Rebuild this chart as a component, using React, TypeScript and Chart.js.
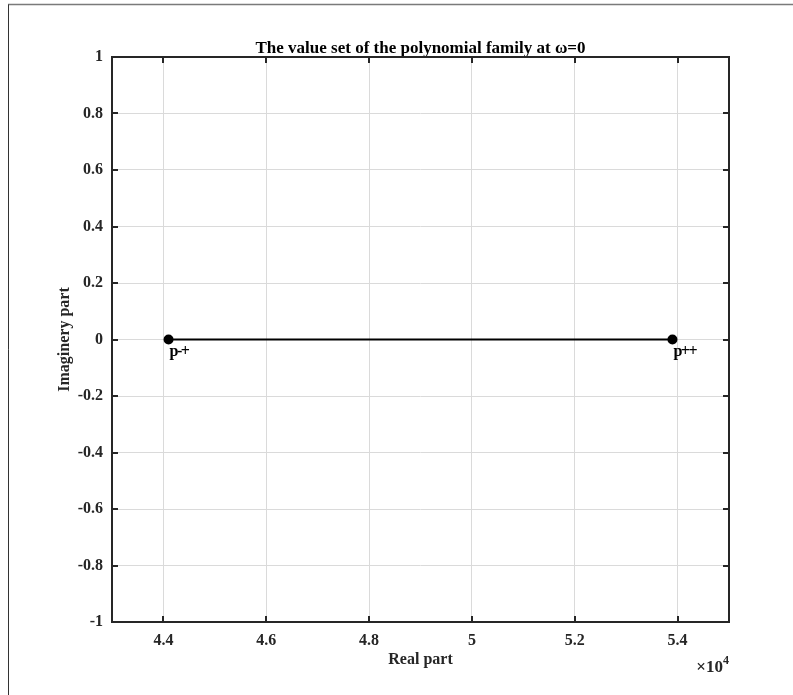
import React, { useEffect, useRef } from 'react';
import { Chart, registerables } from 'chart.js';

Chart.register(...registerables);

// Vertices of the value set (real, imaginary) and their names
const REAL_PARTS = [44100, 53900];
const IMAG_PARTS = [0, 0];
const VERTEX_LABELS = ['p-+', 'p++'];

// Axis ranges and ticks
const X_RANGE = [43000, 55000];
const Y_RANGE = [-1, 1];
const X_TICKS = [44000, 46000, 48000, 50000, 52000, 54000];
const Y_TICKS = [-1, -0.8, -0.6, -0.4, -0.2, 0, 0.2, 0.4, 0.6, 0.8, 1];
const X_EXPONENT = 4;

const TITLE = 'The value set of the polynomial family at \u03c9=0';
const X_TITLE = 'Real part';
const Y_TITLE = 'Imaginery part';

const SERIF = '"Liberation Serif", "Times New Roman", Times, serif';
const AXIS_COLOR = '#262626';
const GRID_COLOR = '#dadada';
const TICK_LEN = 6;

const W = 793;
const H = 695;

const matlabAxes = {
  id: 'matlabAxes',
  beforeDraw(chart: any) {
    const { ctx } = chart;
    ctx.save();
    // figure frame
    ctx.lineWidth = 1.5;
    ctx.strokeStyle = '#7a7a7a';
    ctx.beginPath();
    ctx.moveTo(8, 4.5);
    ctx.lineTo(W, 4.5);
    ctx.stroke();
    ctx.lineWidth = 1;
    ctx.strokeStyle = '#333333';
    ctx.beginPath();
    ctx.moveTo(8.5, 4.5);
    ctx.lineTo(8.5, H);
    ctx.stroke();
    ctx.restore();
  },
  afterDatasetsDraw(chart: any) {
    const { ctx } = chart;
    const meta = chart.getDatasetMeta(0);
    ctx.save();
    ctx.fillStyle = '#000';
    ctx.font = `bold 16px ${SERIF}`;
    ctx.textAlign = 'left';
    ctx.textBaseline = 'alphabetic';
    try {
      (ctx as any).letterSpacing = '-1.5px';
    } catch (e) {
      /* ignore */
    }
    meta.data.forEach((el: any, i: number) => {
      ctx.fillText(VERTEX_LABELS[i], el.x + 1, el.y + 16);
    });
    ctx.restore();
  },
  afterDraw(chart: any) {
    const { ctx, chartArea } = chart;
    const { left, right, top, bottom } = chartArea;
    const xs = chart.scales.x;
    const ys = chart.scales.y;
    ctx.save();
    ctx.strokeStyle = AXIS_COLOR;
    ctx.lineWidth = 2;
    ctx.beginPath();
    X_TICKS.forEach((v) => {
      const px = Math.round(xs.getPixelForValue(v));
      ctx.moveTo(px, bottom);
      ctx.lineTo(px, bottom - TICK_LEN);
      ctx.moveTo(px, top);
      ctx.lineTo(px, top + TICK_LEN);
    });
    Y_TICKS.forEach((v) => {
      const py = Math.round(ys.getPixelForValue(v));
      ctx.moveTo(left, py);
      ctx.lineTo(left + TICK_LEN, py);
      ctx.moveTo(right, py);
      ctx.lineTo(right - TICK_LEN, py);
    });
    ctx.stroke();
    // axes box
    ctx.lineWidth = 2;
    ctx.strokeRect(left, top, right - left, bottom - top);

    // exponent of the x axis
    ctx.fillStyle = AXIS_COLOR;
    ctx.textBaseline = 'alphabetic';
    ctx.textAlign = 'right';
    ctx.font = `bold 12px ${SERIF}`;
    const expText = String(X_EXPONENT);
    const expW = ctx.measureText(expText).width;
    ctx.fillText(expText, right, 664);
    ctx.font = `bold 17px ${SERIF}`;
    ctx.fillText('\u00d710', right - expW, 672);
    ctx.restore();
  },
};

export default function App() {
  const canvasRef = useRef<HTMLCanvasElement | null>(null);

  useEffect(() => {
    const canvas = canvasRef.current;
    if (!canvas) return;
    const points = REAL_PARTS.map((x, i) => ({ x, y: IMAG_PARTS[i] }));

    const chart = new Chart(canvas, {
      type: 'line',
      data: {
        datasets: [
          {
            data: points,
            borderColor: '#000000',
            borderWidth: 2,
            backgroundColor: '#000000',
            pointRadius: 5,
            pointBackgroundColor: '#000000',
            pointBorderColor: '#000000',
            pointBorderWidth: 0,
            fill: false,
            tension: 0,
          },
        ],
      },
      options: {
        animation: false,
        responsive: false,
        devicePixelRatio: 1,
        parsing: false,
        layout: { padding: { left: 0, right: 64, top: 0, bottom: 0 } },
        plugins: {
          legend: { display: false },
          tooltip: { enabled: false },
          title: { display: false },
        },
        scales: {
          x: {
            type: 'linear',
            position: 'bottom',
            min: X_RANGE[0],
            max: X_RANGE[1],
            afterBuildTicks: (scale: any) => {
              scale.ticks = X_TICKS.map((value) => ({ value }));
            },
            afterFit: (scale: any) => {
              scale.height = 73;
            },
            grid: { color: GRID_COLOR, lineWidth: 1, drawTicks: false },
            border: { display: false },
            ticks: {
              padding: 9,
              color: AXIS_COLOR,
              font: { family: SERIF, size: 16, weight: 'bold' },
              maxRotation: 0,
              autoSkip: false,
              callback: (v: any) => String(Number(v) / 10 ** X_EXPONENT),
            },
            title: {
              display: true,
              text: X_TITLE,
              color: AXIS_COLOR,
              font: { family: SERIF, size: 16, weight: 'bold' },
              padding: { top: 0, bottom: 26 },
            },
          },
          top: {
            type: 'linear',
            position: 'top',
            min: 0,
            max: 1,
            afterFit: (scale: any) => {
              scale.height = 57;
            },
            grid: { display: false },
            border: { display: false },
            ticks: { display: false },
            title: {
              display: true,
              text: TITLE,
              color: '#000000',
              font: { family: SERIF, size: 17, weight: 'bold' },
              padding: { top: 38, bottom: 0 },
            },
          },
          y: {
            type: 'linear',
            position: 'left',
            min: Y_RANGE[0],
            max: Y_RANGE[1],
            afterBuildTicks: (scale: any) => {
              scale.ticks = Y_TICKS.map((value) => ({ value }));
            },
            afterFit: (scale: any) => {
              scale.width = 112;
            },
            grid: { color: GRID_COLOR, lineWidth: 1, drawTicks: false },
            border: { display: false },
            ticks: {
              padding: 9,
              color: AXIS_COLOR,
              font: { family: SERIF, size: 16, weight: 'bold' },
              autoSkip: false,
              callback: (v: any) => String(Number(v)),
            },
            title: {
              display: true,
              text: Y_TITLE,
              color: AXIS_COLOR,
              font: { family: SERIF, size: 16, weight: 'bold' },
              padding: { top: 55, bottom: 0 },
            },
          },
        },
      },
      plugins: [matlabAxes],
    } as any);

    return () => {
      chart.destroy();
    };
  }, []);

  return (
    <div style={{ position: 'absolute', left: 0, top: 0, width: W, height: H, background: '#ffffff' }}>
      <canvas ref={canvasRef} width={W} height={H} style={{ display: 'block', width: W, height: H }} />
    </div>
  );
}
